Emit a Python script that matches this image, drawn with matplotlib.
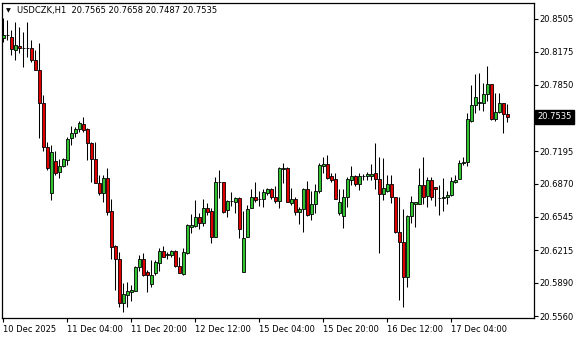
import matplotlib
matplotlib.use("Agg")
import matplotlib.pyplot as plt
import numpy as np

# ---- data (USDCZK H1) ----
opens = [20.8314, 20.8344, 20.8324, 20.8195, 20.8235, 20.8215, 20.8215, 20.8215, 20.8096, 20.7997,
         20.7670, 20.7235, 20.6779, 20.7096, 20.6987, 20.7047, 20.7106, 20.7324, 20.7373, 20.7413,
         20.7462, 20.7413, 20.7274, 20.7116, 20.6878, 20.6779, 20.6928, 20.6601, 20.6255, 20.6126,
         20.5690, 20.5770, 20.5799, 20.5809, 20.6047, 20.6126, 20.5997, 20.5878, 20.5987, 20.6086,
         20.6205, 20.6166, 20.6166, 20.6205, 20.6057, 20.5977, 20.6185, 20.6443, 20.6453, 20.6542,
         20.6482, 20.6631, 20.6601, 20.6344, 20.6888, 20.6888, 20.6611, 20.6700, 20.6690, 20.6730,
         20.5997, 20.6344, 20.6631, 20.6740, 20.6720, 20.6720, 20.6779, 20.6819, 20.6740, 20.6700,
         20.7017, 20.7027, 20.6680, 20.6720, 20.6591, 20.6621, 20.6819, 20.6571, 20.6670, 20.6799,
         20.7047, 20.7066, 20.6948, 20.6918, 20.6581, 20.6552, 20.6740, 20.6908, 20.6948, 20.6868,
         20.6948, 20.6948, 20.6948, 20.6977, 20.6918, 20.6769, 20.6799, 20.6868, 20.6740, 20.6393,
         20.6294, 20.5948, 20.6552, 20.6670, 20.6670, 20.6859, 20.6750, 20.6908, 20.6839, 20.6730,
         20.6730, 20.6740, 20.6760, 20.6888, 20.6918, 20.7076, 20.7086, 20.7492, 20.7651, 20.7670,
         20.7670, 20.7759, 20.7858, 20.7512, 20.7581, 20.7670, 20.7565]
highs = [20.8512, 20.8492, 20.8393, 20.8472, 20.8423, 20.8373, 20.8472, 20.8294, 20.8195, 20.8264,
         20.7750, 20.7284, 20.7255, 20.7195, 20.7116, 20.7126, 20.7334, 20.7443, 20.7433, 20.7492,
         20.7532, 20.7423, 20.7284, 20.7284, 20.6958, 20.6958, 20.7027, 20.6720, 20.6265, 20.6195,
         20.5888, 20.5898, 20.5869, 20.6057, 20.6166, 20.6185, 20.6017, 20.6116, 20.6116, 20.6235,
         20.6255, 20.6195, 20.6215, 20.6215, 20.6146, 20.6235, 20.6472, 20.6571, 20.6710, 20.6581,
         20.6720, 20.6680, 20.6631, 20.6938, 20.7007, 20.6888, 20.6710, 20.6789, 20.6740, 20.6740,
         20.6601, 20.6661, 20.6819, 20.6888, 20.6799, 20.6819, 20.6829, 20.6829, 20.6849, 20.7037,
         20.7076, 20.7037, 20.6829, 20.6740, 20.6641, 20.6829, 20.6898, 20.6799, 20.6868, 20.7076,
         20.7136, 20.7156, 20.6977, 20.6977, 20.6819, 20.6819, 20.6938, 20.7047, 20.6958, 20.6977,
         20.6967, 20.6987, 20.7066, 20.7274, 20.7136, 20.7126, 20.6958, 20.6958, 20.6740, 20.6740,
         20.6621, 20.6562, 20.6750, 20.6690, 20.7027, 20.7136, 20.6938, 20.6938, 20.6839, 20.6859,
         20.6928, 20.6799, 20.6938, 20.6958, 20.7106, 20.7136, 20.7571, 20.7849, 20.7957, 20.7967,
         20.7868, 20.8037, 20.7858, 20.7769, 20.7769, 20.7670, 20.7658]
lows = [20.8274, 20.8294, 20.8146, 20.8096, 20.8165, 20.8027, 20.8126, 20.8076, 20.7997, 20.7324,
        20.7195, 20.7007, 20.6710, 20.6958, 20.6928, 20.7037, 20.7057, 20.7255, 20.7334, 20.7383,
        20.7383, 20.7106, 20.6888, 20.6878, 20.6760, 20.6690, 20.6562, 20.6126, 20.5819, 20.5651,
        20.5601, 20.5651, 20.5710, 20.5809, 20.6007, 20.5958, 20.5799, 20.5849, 20.5968, 20.6007,
        20.6146, 20.6126, 20.6146, 20.6047, 20.5987, 20.5968, 20.6175, 20.6383, 20.6443, 20.6423,
        20.6453, 20.6562, 20.6284, 20.6344, 20.6730, 20.6581, 20.6542, 20.6651, 20.6581, 20.6334,
        20.5997, 20.6344, 20.6631, 20.6690, 20.6651, 20.6641, 20.6760, 20.6720, 20.6680, 20.6631,
        20.6878, 20.6690, 20.6661, 20.6562, 20.6472, 20.6393, 20.6552, 20.6512, 20.6581, 20.6779,
        20.6977, 20.6918, 20.6888, 20.6720, 20.6562, 20.6433, 20.6641, 20.6859, 20.6849, 20.6809,
        20.6908, 20.6908, 20.6908, 20.6819, 20.6185, 20.6710, 20.6789, 20.6680, 20.6383, 20.5720,
        20.5651, 20.5849, 20.6482, 20.6443, 20.6670, 20.6670, 20.6641, 20.6710, 20.6651, 20.6562,
        20.6601, 20.6670, 20.6750, 20.6878, 20.6918, 20.7057, 20.7047, 20.7482, 20.7571, 20.7601,
        20.7591, 20.7690, 20.7502, 20.7492, 20.7571, 20.7373, 20.7487]
closes = [20.8344, 20.8344, 20.8205, 20.8245, 20.8215, 20.8215, 20.8215, 20.8096, 20.7997, 20.7670,
          20.7235, 20.7027, 20.7185, 20.6977, 20.7047, 20.7116, 20.7314, 20.7373, 20.7413, 20.7472,
          20.7403, 20.7274, 20.7116, 20.6878, 20.6779, 20.6928, 20.6591, 20.6245, 20.6126, 20.5690,
          20.5779, 20.5809, 20.5819, 20.6047, 20.6126, 20.5968, 20.5968, 20.5968, 20.6096, 20.6205,
          20.6146, 20.6175, 20.6205, 20.6057, 20.5987, 20.6195, 20.6463, 20.6463, 20.6542, 20.6482,
          20.6631, 20.6591, 20.6344, 20.6888, 20.6888, 20.6591, 20.6700, 20.6700, 20.6730, 20.6423,
          20.6334, 20.6621, 20.6740, 20.6710, 20.6720, 20.6789, 20.6819, 20.6740, 20.6700, 20.7027,
          20.7027, 20.6690, 20.6720, 20.6591, 20.6621, 20.6819, 20.6562, 20.6670, 20.6799, 20.7057,
          20.7066, 20.6928, 20.6908, 20.6720, 20.6690, 20.6740, 20.6918, 20.6948, 20.6868, 20.6948,
          20.6948, 20.6967, 20.6967, 20.6918, 20.6769, 20.6829, 20.6868, 20.6740, 20.6393, 20.6294,
          20.5948, 20.6552, 20.6690, 20.6690, 20.6859, 20.6740, 20.6908, 20.6740, 20.6819, 20.6730,
          20.6740, 20.6760, 20.6898, 20.6908, 20.7076, 20.7086, 20.7512, 20.7651, 20.7730, 20.7680,
          20.7759, 20.7858, 20.7512, 20.7581, 20.7670, 20.7561, 20.7535]

symbol = "USDCZK,H1"
x_tick_labels = ["10 Dec 2025", "11 Dec 04:00", "11 Dec 20:00", "12 Dec 12:00",
                 "15 Dec 04:00", "15 Dec 20:00", "16 Dec 12:00", "17 Dec 04:00"]
bars_per_label = 16
y_tick_values = [20.8505, 20.8175, 20.7850, 20.7195, 20.6870, 20.6545, 20.6215, 20.5890, 20.5560]
current_price = 20.7535

# ---- figure ----
W, H = 580, 340
fig = plt.figure(figsize=(W / 100, H / 100), dpi=100)
fig.patch.set_facecolor("white")
ax = fig.add_axes([2 / W, 1 - 318 / H, (534 - 2) / W, (318 - 3) / H])
ax.set_facecolor("white")

o = np.array(opens); h = np.array(highs); l = np.array(lows); c = np.array(closes)
n = len(o)
x = np.arange(n)
up = c >= o
green = "#2fc42f"
red = "#e00000"

ax.vlines(x, l, h, color="black", linewidth=0.75, zorder=2)
body_bottom = np.minimum(o, c)
body_h = np.abs(c - o)
colors = [green if u else red for u in up]
ax.bar(x, body_h, bottom=body_bottom, width=0.72, color=colors,
       edgecolor="black", linewidth=0.6, zorder=3)

ax.set_xlim(-0.325, 132.675)
ax.set_ylim(20.5542, 20.8660)

for s in ax.spines.values():
    s.set_color("black")
    s.set_linewidth(0.9)

fs = 6
# y axis on right
ax.yaxis.tick_right()
ax.set_yticks(y_tick_values)
ax.set_yticklabels([f"{v:.4f}" for v in y_tick_values])
ax.tick_params(axis="y", direction="out", length=3, width=0.8, pad=1.0,
               labelsize=fs, colors="black")
# x axis
ticks = [i * bars_per_label for i in range(len(x_tick_labels))]
ax.set_xticks(ticks)
ax.set_xticklabels(x_tick_labels, ha="left")
ax.tick_params(axis="x", direction="out", length=3, width=0.8, pad=2,
               labelsize=fs, colors="black")
for t in ax.get_xticklabels():
    t.set_horizontalalignment("left")

# current price label
ax.annotate(f"{current_price:.4f}", xy=(1.0, current_price), xycoords=("axes fraction", "data"),
            xytext=(2.2, 0), textcoords="offset points", ha="left", va="center",
            fontsize=fs, color="white",
            bbox=dict(boxstyle="square,pad=0.3", facecolor="black", edgecolor="black"))

# header text
fig.text(6 / W, 1 - 11 / H, "\u25BC", fontsize=4.5, color="black", va="center", ha="left")
fig.text(17 / W, 1 - 11 / H,
         f"{symbol}  {o[-1]:.4f} {h[-1]:.4f} {l[-1]:.4f} {c[-1]:.4f}",
         fontsize=fs, color="black", va="center", ha="left")

fig.savefig("out.png", dpi=100, facecolor="white")
